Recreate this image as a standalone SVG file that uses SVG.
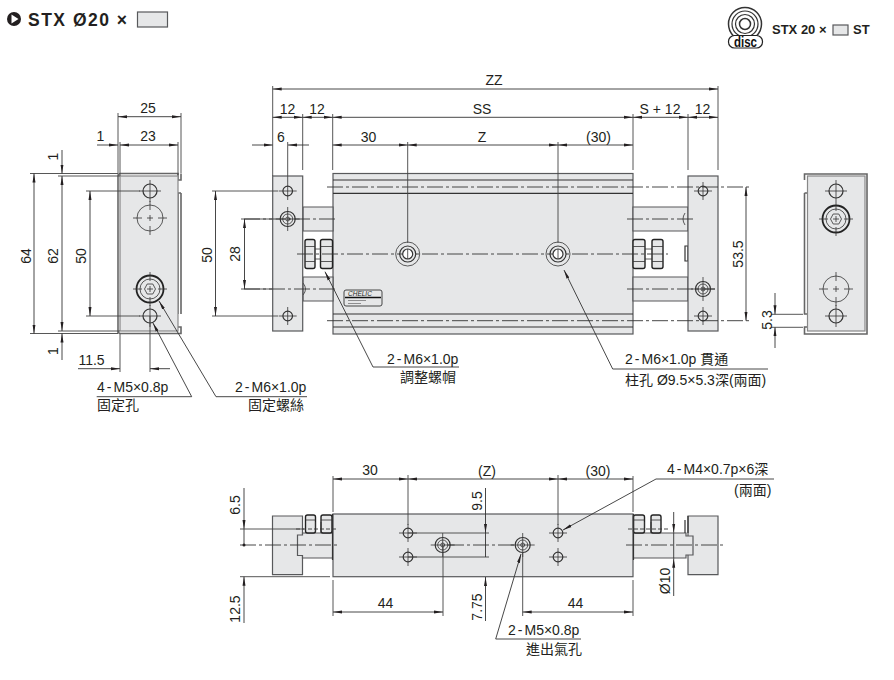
<svg xmlns="http://www.w3.org/2000/svg" width="894" height="680" viewBox="0 0 894 680">
<style>
text{font-family:"Liberation Sans","Noto Sans CJK TC",sans-serif;font-size:14px;fill:#231f20}
.m{text-anchor:middle}
.l{font-size:14px}
.b{font-weight:bold}
.f{fill:#e6e7e8;stroke:#58595b;stroke-width:1.2}
.o{fill:none;stroke:#333;stroke-width:1.2}
.n{fill:#e6e7e8;stroke:#222;stroke-width:1.4}
.t{fill:none;stroke:#333;stroke-width:.8}
.k{fill:none;stroke:#222;stroke-width:1.8}
.d{fill:none;stroke:#333;stroke-width:.9}
.e{fill:none;stroke:#444;stroke-width:.9}
.c{fill:none;stroke:#333;stroke-width:.9;stroke-dasharray:16 3 3 3}
.a{marker-end:url(#ar)}
.aa{marker-start:url(#ar);marker-end:url(#ar)}
</style>
<defs>
<marker id="ar" markerUnits="userSpaceOnUse" markerWidth="10" markerHeight="6" refX="9" refY="3" orient="auto-start-reverse"><path d="M0,1.500 L9,3 L0,4.500 Z" fill="#231f20"/></marker>
<g id="x5"><circle class="o" r="4.800"/><path class="t" d="M-9,0H9M0,-9V9"/></g>
<g id="x6"><circle class="o" r="7"/><path class="t" d="M-11,0H11M0,-11V11"/></g>
<g id="th"><circle class="t" r="13"/><path class="t" d="M-17,0H-8M-3,0H3M8,0H17M0,-17V-8M0,-3V3M0,8V17"/></g>
<g id="cb"><circle class="k" r="13.500"/><circle class="t" r="10"/><path class="t" d="M-5.500,0 L-2.800,-5 H2.800 L5.500,0 L2.800,5 H-2.800Z"/><path class="t" d="M-17,0H-8M-3,0H3M8,0H17M0,-17V-8M0,-3V3M0,8V17"/></g>
<g id="pt"><circle class="o" r="7.500"/><circle class="t" r="5"/><circle class="t" r="2"/><path class="t" d="M-12,0H12M0,-12V12"/></g>
<g id="ci"><circle class="t" r="12"/><circle class="o" r="8"/><circle fill="#fff" stroke="#333" stroke-width="1.200" r="5"/><path class="t" d="M0,-5V5"/></g>
</defs>

<g id="title">
<circle cx="14" cy="19" r="7" fill="#231f20"/><path d="M11.500,14.500 L18.500,19 L11.500,23.500Z" fill="#fff"/>
<text class="b" x="28" y="26" style="font-size:17.500px;letter-spacing:1.500px">STX Ø20 ×</text>
<rect class="f" x="137.500" y="12" width="30" height="15"/>
</g>

<g id="disc-badge">
<circle fill="none" stroke="#333" stroke-width="1.500" cx="745" cy="24" r="16.500"/><circle fill="none" stroke="#333" stroke-width="1.200" cx="745" cy="24" r="13"/><circle fill="none" stroke="#333" stroke-width="1.200" cx="745" cy="24" r="9.500"/><circle fill="none" stroke="#333" stroke-width="1.500" cx="745" cy="24" r="5.500"/>
<rect x="728.500" y="35.500" width="34" height="12.500" rx="6" fill="#fff" stroke="#222" stroke-width="1.200"/>
<text class="m b" x="745.500" y="47" style="font-size:14px;fill:#111" textLength="23" lengthAdjust="spacingAndGlyphs">disc</text>
<text class="b" x="772" y="34" style="font-size:13px">STX 20 ×</text>
<rect class="f" x="833" y="25" width="15" height="10" stroke-width=".8"/>
<text class="b" x="853" y="34" style="font-size:13px">ST</text>
</g>

<g id="left-view">
<path style="stroke:#666;stroke-width:1.600;fill:none" d="M118,333.500V176Q118,173.500 120.500,173.500H178V180H181V173.500M181,193V314M178,314V193H181M178,327H181V333.500H120.500Q118,333.500 118,331"/>
<rect class="f" x="120" y="176" width="58" height="155" style="stroke:#888"/>
<use href="#x6" x="150" y="191"/>
<use href="#th" x="150" y="218"/>
<use href="#cb" x="150" y="289"/>
<use href="#x6" x="150" y="316"/>
</g>

<g id="front-view">
<rect class="f" x="333" y="173.500" width="300" height="160.500"/>
<path class="o" d="M333,180H633M333,193.300H633M333,314H633M333,327H633"/>
<g id="rods"><path class="f" d="M303,207H333V231H303ZM303,277H333V301H303ZM633,207H688V231H633ZM633,277H688V301H633Z"/></g>
<path class="o" d="M685,246H688V261H685Z"/>
<path class="t" d="M685,213Q681,219 685,225M303,283Q308,289 303,295"/>
<g id="nuts">
<rect class="n" x="305" y="239.500" width="10" height="29" rx="2"/><path class="t" d="M305,246.500H315M305,261.500H315"/>
<rect class="n" x="320.500" y="239.500" width="12" height="29" rx="2"/><path class="t" d="M320.500,246.500H332.500M320.500,261.500H332.500"/>
<rect class="n" x="633" y="239.500" width="12" height="29" rx="2"/><path class="t" d="M633,246.500H645M633,261.500H645"/>
<rect class="n" x="652" y="239.500" width="11" height="29" rx="2"/><path class="t" d="M652,246.500H663M652,261.500H663"/>
<path class="t" d="M315,249H320.500M315,259H320.500M645,249H652M645,259H652"/>
</g>
<rect class="f" x="272.700" y="176" width="30" height="155"/>
<rect class="f" x="688" y="176" width="30" height="155"/>
<g id="nameplate">
<rect x="344" y="290" width="38" height="16" rx="2" fill="#e6e7e8" stroke="#333" stroke-width=".9"/>
<path d="M345,297.500H381" stroke="#111" stroke-width="1.600"/>
<text x="348" y="296" style="font-size:6.500px;font-style:italic">CHELIC</text>
<path d="M348,300.500H366M348,303.500H361" stroke="#777" stroke-width=".8"/>
</g>
<path class="c" d="M327,187H750M327,320.700H750M297,254H668M244,219H338M627,219H693M244,289H338M627,289H715"/>
<use href="#x5" x="287.700" y="191"/>
<use href="#pt" x="287.700" y="219"/>
<use href="#x5" x="287.700" y="316"/>
<use href="#ci" x="407.700" y="254"/>
<use href="#ci" x="558" y="254"/>
<use href="#x5" x="703" y="191"/>
<use href="#pt" x="703" y="289"/>
<use href="#x5" x="703" y="316"/>
</g>

<g id="right-view">
<path style="stroke:#666;stroke-width:1.600;fill:none" d="M804.500,180V174H867V334H804.500V327H807M804.500,193H807M804.500,193V314H807"/>
<rect class="f" x="807.500" y="176" width="57.500" height="155" style="stroke:#888"/>
<use href="#x6" x="836" y="191"/>
<use href="#cb" x="836" y="219"/>
<use href="#th" x="836" y="289"/>
<use href="#x6" x="836" y="316"/>
</g>

<g id="bottom-view">
<rect class="f" x="333" y="514" width="300" height="62.700"/>
<path class="f" d="M272.500,516H302.500V574.700H272.500Z"/>
<path class="f" d="M688,516H718V574.700H688Z"/>
<path class="f" d="M333,533H302.500V535H297.500V555.500H302.500V558H333"/>
<path class="f" d="M633,533H686V536H693V555H686V558H633"/>
<path class="o" d="M685,520V533M688,516V533"/>
<g id="bottom-nuts">
<rect class="n" x="305.500" y="515" width="10" height="18" rx="2"/><rect class="n" x="321" y="515" width="11" height="18" rx="2"/>
<rect class="n" x="633.500" y="515" width="11" height="18" rx="2"/><rect class="n" x="651" y="515" width="10" height="18" rx="2"/>
<path class="t" d="M305.500,520H315.500M321,520H332M633.500,520H644.500M651,520H661M315.500,522V533M321,522V533M644.500,522V533M651,522V533"/>
</g>
<path class="o" d="M332.500,514V560M633.500,514V560"/>
<path class="c" d="M240,545H340M626,545H724M448,545H516" />
<path class="c" style="stroke-dasharray:4 2" d="M296,529H338M628,529H668"/>
<use href="#x5" x="408" y="533"/>
<use href="#x5" x="408" y="557"/>
<use href="#x5" x="558" y="533"/>
<use href="#x5" x="558" y="557"/>
<use href="#pt" x="442.700" y="545"/>
<use href="#pt" x="522.700" y="545"/>
</g>

<g id="connectors">
<g id="ext-lines">
<path class="e" d="M118,113V173M120,142V176M178,142V175M181,113V173M30,173.500H118M58,176H120M86,191H140M86,316H140M30,333.500H118M58,331H120M120,334V372M150,316V372"/>
<path class="e" d="M272.700,86V176M302.700,114V170M332.700,114V170M287.700,142V182M407.700,142V243M558,142V243M633,114V170M688,114V170M718,86V170M212,191H278M212,316H278M241,219H272M241,289H272"/>
<path class="e" d="M771,314.300H803M771,327.300H803"/>
<path class="e" d="M333,476V512M408,475V525M558,475V525M633,476V512M333,580V616M443,545V616M522.700,552V616M633,580V616M240,529H304M240,576.700H330M408,533H489M408,557H489"/>
</g>
<g id="dims">
<path class="d aa" d="M118,116.700H181"/><path class="d aa" d="M120,145H178"/><path class="d a" d="M97,145H118"/>
<path class="d aa" d="M34,173.500V333.500"/><path class="d aa" d="M62,176V331"/><path class="d a" d="M62,150V173.500"/><path class="d a" d="M62,360V333.500"/><path class="d aa" d="M90,191V316"/>
<path class="d a" d="M78,368.700H120"/><path class="d a" d="M170,368.700H150"/>
<path class="d aa" d="M272.700,89H718"/>
<path class="d aa" d="M272.700,117.300H302.700"/><path class="d aa" d="M302.700,117.300H332.700"/><path class="d aa" d="M332.700,117.300H633"/><path class="d aa" d="M633,117.300H688"/><path class="d aa" d="M688,117.300H718"/>
<path class="d a" d="M252,145H272.700"/><path class="d a" d="M309,145H288"/>
<path class="d aa" d="M332.700,145H407.700"/><path class="d aa" d="M407.700,145H558"/><path class="d aa" d="M558,145H633"/>
<path class="d aa" d="M215.500,191V316"/><path class="d aa" d="M244.500,219V289"/>
<path class="d aa" d="M746,187V320.700"/><path class="d a" d="M775,293V314.300"/><path class="d a" d="M775,348V327.300"/>
<path class="d aa" d="M333,479H408"/><path class="d aa" d="M408,479H558"/><path class="d aa" d="M558,479H633"/>
<path class="d aa" d="M333,612H443"/><path class="d aa" d="M522.700,612H633"/>
<path class="d a" d="M244,488V529"/><path d="M244,529V545" class="d"/><circle cx="244" cy="545" r="1.500" fill="#231f20"/><path class="d a" d="M244,623V576.700"/>
<path class="d a" d="M485.500,488V533"/><path class="d" d="M485.500,533V557"/><path class="d a" d="M485.500,621V577"/>
<path class="d a" d="M673.700,512V532.700"/><path class="d" d="M673.700,532.700V558.700"/><path class="d a" d="M673.700,596V558.700"/>
</g>
<g id="leaders">
<path class="d a" d="M96.700,396.700H191.700L153,323"/>
<path class="d a" d="M307,396.700H216L159,301"/>
<path class="d a" d="M459,367H373L325,271.700"/>
<path class="d a" d="M768,369H612.700L564,270"/>
<path class="d a" d="M774,479H656L563,530"/>
<path class="d a" d="M581,639H495.700L521,554"/>
</g>
</g>

<g id="labels">
<text class="m" x="148" y="113">25</text>
<text class="m" x="148" y="141">23</text>
<text class="m" x="100.500" y="141">1</text>
<text class="m" transform="translate(30.500,256) rotate(-90)">64</text>
<text class="m" transform="translate(58,256) rotate(-90)">62</text>
<text class="m" transform="translate(86,256) rotate(-90)">50</text>
<text class="m" transform="translate(58,156.500) rotate(-90)">1</text>
<text class="m" transform="translate(58,351) rotate(-90)">1</text>
<text class="m" x="91.500" y="365">11.5</text>
<text class="m" x="494" y="85">ZZ</text>
<text class="m" x="287.500" y="114">12</text>
<text class="m" x="317" y="114">12</text>
<text class="m" x="482" y="114">SS</text>
<text class="m" x="660" y="114">S + 12</text>
<text class="m" x="702.500" y="114">12</text>
<text class="m" x="281" y="142">6</text>
<text class="m" x="368.500" y="142">30</text>
<text class="m" x="482" y="142">Z</text>
<text class="m" x="598.500" y="142">(30)</text>
<text class="m" transform="translate(212,255) rotate(-90)">50</text>
<text class="m" transform="translate(240,254) rotate(-90)">28</text>
<text class="m" transform="translate(743,254) rotate(-90)">53.5</text>
<text class="m" transform="translate(771.500,320) rotate(-90)">5.3</text>
<text class="m" x="370" y="475">30</text>
<text class="m" x="487" y="476">(Z)</text>
<text class="m" x="598" y="476">(30)</text>
<text class="m" x="385.500" y="608">44</text>
<text class="m" x="575.500" y="608">44</text>
<text class="m" transform="translate(240,505) rotate(-90)">6.5</text>
<text class="m" transform="translate(240,609) rotate(-90)">12.5</text>
<text class="m" transform="translate(481.500,501) rotate(-90)">9.5</text>
<text class="m" transform="translate(481.500,607) rotate(-90)">7.75</text>
<text class="m" transform="translate(670,581) rotate(-90)">Ø10</text>

<text class="l" x="97" y="392">4<tspan dx="2">-</tspan><tspan dx="2">M5×0.8p</tspan></text>
<text class="l" x="97" y="410">固定孔</text>
<text class="l" x="235" y="392">2<tspan dx="2">-</tspan><tspan dx="2">M6×1.0p</tspan></text>
<text class="l" x="248" y="410">固定螺絲</text>
<text class="l" x="387" y="364">2<tspan dx="2">-</tspan><tspan dx="2">M6×1.0p</tspan></text>
<text class="l" x="400" y="382">調整螺帽</text>
<text class="l" x="625" y="364">2<tspan dx="2">-</tspan><tspan dx="2">M6×1.0p 貫通</tspan></text>
<text class="l" x="625" y="385">柱孔 Ø9.5×5.3深(兩面)</text>
<text class="l" x="667" y="474">4<tspan dx="2">-</tspan><tspan dx="2">M4×0.7p×6深</tspan></text>
<text class="l" x="734" y="495">(兩面)</text>
<text class="l" x="508" y="635">2<tspan dx="2">-</tspan><tspan dx="2">M5×0.8p</tspan></text>
<text class="l" x="526" y="654">進出氣孔</text>
</g>
</svg>
